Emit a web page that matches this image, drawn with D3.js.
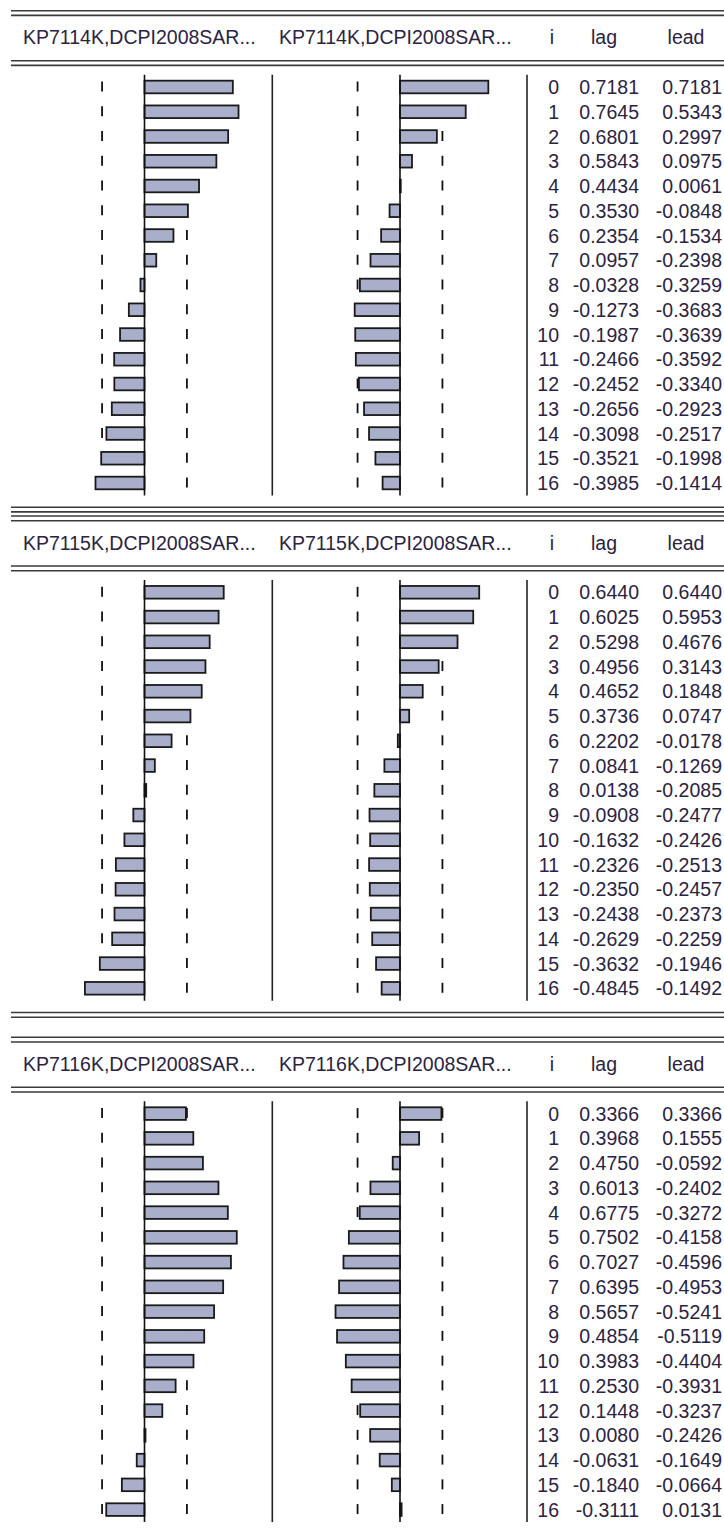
<!doctype html>
<html lang="en">
<head>
  <meta charset="utf-8">
  <title>Cross correlogram</title>
  <script src="https://cdn.jsdelivr.net/npm/d3@7/dist/d3.min.js"></script>
  <style>
    html, body { margin: 0; padding: 0; background: #fff; }
    svg { display: block; }
    text { font-family: "Liberation Sans", Arial, sans-serif; font-size: 19.5px; fill: #2b2342; }
  </style>
</head>
<body>
  <svg id="chart" width="724" height="1528"></svg>
  <script>
    // data
    var seriesA = ["KP7114K", "KP7115K", "KP7116K"];
    var seriesB = "DCPI2008SAR...";
    var lags = d3.range(0, 17);
    var confBound = 0.345;

    var lag1 = [0.7181, 0.7645, 0.6801, 0.5843, 0.4434, 0.3530, 0.2354, 0.0957, -0.0328, -0.1273, -0.1987, -0.2466, -0.2452, -0.2656, -0.3098, -0.3521, -0.3985];
    var lead1 = [0.7181, 0.5343, 0.2997, 0.0975, 0.0061, -0.0848, -0.1534, -0.2398, -0.3259, -0.3683, -0.3639, -0.3592, -0.3340, -0.2923, -0.2517, -0.1998, -0.1414];

    var lag2 = [0.6440, 0.6025, 0.5298, 0.4956, 0.4652, 0.3736, 0.2202, 0.0841, 0.0138, -0.0908, -0.1632, -0.2326, -0.2350, -0.2438, -0.2629, -0.3632, -0.4845];
    var lead2 = [0.6440, 0.5953, 0.4676, 0.3143, 0.1848, 0.0747, -0.0178, -0.1269, -0.2085, -0.2477, -0.2426, -0.2513, -0.2457, -0.2373, -0.2259, -0.1946, -0.1492];

    var lag3 = [0.3366, 0.3968, 0.4750, 0.6013, 0.6775, 0.7502, 0.7027, 0.6395, 0.5657, 0.4854, 0.3983, 0.2530, 0.1448, 0.0080, -0.0631, -0.1840, -0.3111];
    var lead3 = [0.3366, 0.1555, -0.0592, -0.2402, -0.3272, -0.4158, -0.4596, -0.4953, -0.5241, -0.5119, -0.4404, -0.3931, -0.3237, -0.2426, -0.1649, -0.0664, 0.0131];

    var lagSets = [lag1, lag2, lag3];
    var leadSets = [lead1, lead2, lead3];

    // layout
    var panelTop = [10.7, 516, 1037.3];
    var lineX0 = 11, lineX1 = 724;
    var rowStep = 24.75;
    var unit = 123; // px for correlation 1
    var leftZero = 144.5, rightZero = 400;
    // plain hyphen for minus, like the original table
    var fmt = d3.formatLocale({decimal: ".", thousands: ",", grouping: [3], currency: ["", ""], minus: "-"}).format(".4f");

    var svg = d3.select("#chart");

    function dbl(g, y) {
      [y, y + 4.7].forEach(function (yy) {
        g.append("line")
          .attr("x1", lineX0).attr("x2", lineX1)
          .attr("y1", yy).attr("y2", yy)
          .style("stroke", "#3a3a3a").style("stroke-width", 1.6);
      });
    }

    function barChart(g, values, zero, y) {
      var x = d3.scaleLinear().domain([-1, 1]).range([zero - unit, zero + unit]);
      // dashed bounds, one dash per row
      [-confBound, confBound].forEach(function (b) {
        g.selectAll(null).data(lags).enter().append("line")
          .attr("x1", x(b)).attr("x2", x(b))
          .attr("y1", d => y(d) + y.bandwidth() / 2 - 5.5)
          .attr("y2", d => y(d) + y.bandwidth() / 2 + 4.5)
          .style("stroke", "#111").style("stroke-width", 1.8);
      });
      g.selectAll(null).data(values).enter().append("rect")
        .attr("x", d => Math.min(x(0), x(d)))
        .attr("y", (d, i) => y(i))
        .attr("width", d => Math.abs(x(d) - x(0)))
        .attr("height", y.bandwidth())
        .style("fill", "#a9aecb")
        .style("stroke", "#1a1a1a")
        .style("stroke-width", 1.8);
      var r = y.range();
      g.append("line")
        .attr("x1", x(0)).attr("x2", x(0))
        .attr("y1", r[0]).attr("y2", r[1])
        .style("stroke", "#111").style("stroke-width", 1.6);
    }

    seriesA.forEach(function (name, p) {
      var top = panelTop[p];
      var g = svg.append("g");
      var rowStart = top + 76.3 - rowStep / 2;
      var y = d3.scaleBand().domain(lags)
        .range([rowStart, rowStart + rowStep * lags.length])
        .paddingInner(0.49).paddingOuter(0.245);
      var center = i => y(i) + y.bandwidth() / 2;

      dbl(g, top);
      dbl(g, top + 50);
      dbl(g, top + 496.5);

      // headers
      var hy = top + 33.5;
      g.append("text").attr("x", 23).attr("y", hy).text(name + "," + seriesB);
      g.append("text").attr("x", 279).attr("y", hy).text(name + "," + seriesB);
      g.append("text").attr("x", 552).attr("y", hy).attr("text-anchor", "middle").text("i");
      g.append("text").attr("x", 604).attr("y", hy).attr("text-anchor", "middle").text("lag");
      g.append("text").attr("x", 686).attr("y", hy).attr("text-anchor", "middle").text("lead");

      barChart(g, lagSets[p], leftZero, y);
      barChart(g, leadSets[p], rightZero, y);

      // column separators
      var r = y.range();
      [272.3, 527].forEach(function (sx) {
        g.append("line")
          .attr("x1", sx).attr("x2", sx)
          .attr("y1", r[0]).attr("y2", r[1])
          .style("stroke", "#222").style("stroke-width", 1.6);
      });

      // table
      g.selectAll(null).data(lags).enter().append("text")
        .attr("x", 559).attr("y", d => center(d) + 7)
        .attr("text-anchor", "end").text(d => d);
      g.selectAll(null).data(lagSets[p]).enter().append("text")
        .attr("x", 639).attr("y", (d, i) => center(i) + 7)
        .attr("text-anchor", "end").text(d => fmt(d));
      g.selectAll(null).data(leadSets[p]).enter().append("text")
        .attr("x", 722).attr("y", (d, i) => center(i) + 7)
        .attr("text-anchor", "end").text(d => fmt(d));
    });
  </script>
</body>
</html>
